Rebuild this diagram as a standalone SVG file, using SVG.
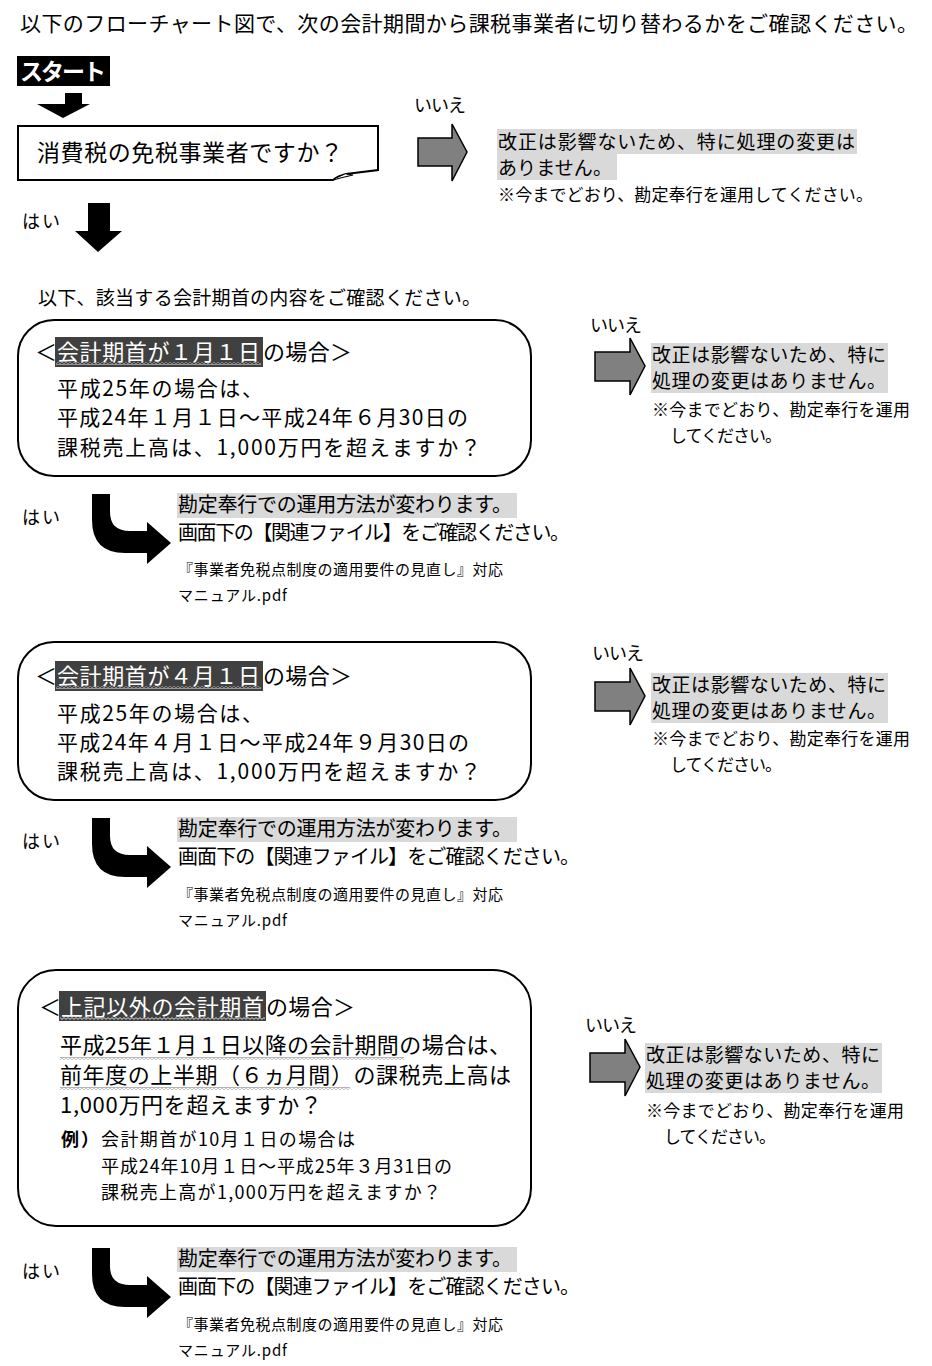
<svg xmlns="http://www.w3.org/2000/svg" width="932" height="1366" viewBox="0 0 932 1366">
<style>
.t{font-family:"Noto Sans CJK JP","Noto Sans",sans-serif;fill:#000}
.w{fill:#fff}
.box{fill:#fff;stroke:#000;stroke-width:2}
.hl{fill:#d9d9d9}
.dk{fill:#404040}
.garrow{fill:#808080;stroke:#000;stroke-width:1.5;stroke-linejoin:miter}
.barrow{fill:#000}
</style>
<defs>
<pattern id="waveW" width="4" height="3" patternUnits="userSpaceOnUse"><path d="M0,0.6 L2,2.4 L4,0.6" fill="none" stroke="#fff" stroke-width="0.8"/></pattern>
<pattern id="waveG" width="4" height="3" patternUnits="userSpaceOnUse"><path d="M0,0.6 L2,2.4 L4,0.6" fill="none" stroke="#555" stroke-width="0.8"/></pattern>
<path id="bend" d="M92,494 H110 V512 Q110,531 130,531 H147 V522 L171,543 L147,564 V553 H125 Q92,553 92,520 Z"/>
</defs>
<rect width="932" height="1366" fill="#fff"/>

<text class="t" x="20" y="31" font-size="21" textLength="898">以下のフローチャート図で、次の会計期間から課税事業者に切り替わるかをご確認ください。</text>

<g id="start">
<rect x="17" y="56" width="93" height="30" fill="#000"/>
<text class="t w" x="20" y="80" font-size="23" font-weight="bold" textLength="86">スタート</text>
</g>

<g id="q1">
<path class="box" d="M18,126 H378 V170 L346,174 Q338,176 333,180 H18 Z"/>
<path d="M333,180 Q344,177 353,175 L346,174" fill="#fff" stroke="#000" stroke-width="1.2"/>
<text class="t" x="37" y="161" font-size="23" textLength="306">消費税の免税事業者ですか？</text>
</g>

<g id="no1">
<rect class="hl" x="497" y="129" width="360" height="25"/>
<rect class="hl" x="497" y="154" width="120" height="26"/>
<text class="t" x="498" y="149" font-size="19" textLength="357">改正は影響ないため、特に処理の変更は</text>
<text class="t" x="498" y="175" font-size="19" textLength="114">ありません。</text>
<text class="t" x="498" y="201" font-size="17" textLength="375">※今までどおり、勘定奉行を運用してください。</text>
</g>

<text class="t" x="38" y="305" font-size="19" textLength="443">以下、該当する会計期首の内容をご確認ください。</text>

<!-- Section 1 -->
<g id="case1">
<rect class="box" x="18" y="320" width="513" height="156" rx="36"/>
<text class="t" x="35" y="360" font-size="22" textLength="20">＜</text>
<rect class="dk" x="55" y="337" width="208" height="30"/>
<text class="t w" x="57" y="360" font-size="22" textLength="203">会計期首が１月１日</text>
<rect x="56" y="362" width="205" height="3" fill="url(#waveW)"/>
<text class="t" x="263" y="360" font-size="22" textLength="89">の場合＞</text>
<text class="t" x="57" y="396" font-size="21" textLength="206">平成25年の場合は、</text>
<text class="t" x="57" y="425" font-size="21" textLength="411">平成24年１月１日～平成24年６月30日の</text>
<text class="t" x="57" y="455" font-size="21" textLength="424">課税売上高は、1,000万円を超えますか？</text>
</g>
<g id="no2">
<rect class="hl" x="651" y="343" width="237" height="25"/>
<rect class="hl" x="651" y="368" width="237" height="25"/>
<text class="t" x="652" y="362" font-size="19" textLength="234">改正は影響ないため、特に</text>
<text class="t" x="652" y="388" font-size="19" textLength="234">処理の変更はありません。</text>
<text class="t" x="652" y="416" font-size="17" textLength="258">※今までどおり、勘定奉行を運用</text>
<text class="t" x="670" y="442" font-size="17" textLength="112">してください。</text>
</g>
<g id="yes1">
<rect class="hl" x="177" y="493" width="340" height="25"/>
<text class="t" x="178" y="512" font-size="20" textLength="334">勘定奉行での運用方法が変わります。</text>
<text class="t" x="178" y="540" font-size="20" textLength="392">画面下の【関連ファイル】をご確認ください。</text>
<text class="t" x="178" y="575" font-size="15" textLength="325">『事業者免税点制度の適用要件の見直し』対応</text>
<text class="t" x="178" y="601" font-size="15" textLength="109">マニュアル.pdf</text>
</g>

<!-- Section 2 -->
<g id="case2">
<rect class="box" x="18" y="642" width="513" height="158" rx="36"/>
<text class="t" x="35" y="684" font-size="22" textLength="20">＜</text>
<rect class="dk" x="55" y="661" width="208" height="30"/>
<text class="t w" x="57" y="684" font-size="22" textLength="203">会計期首が４月１日</text>
<rect x="56" y="686" width="205" height="3" fill="url(#waveW)"/>
<text class="t" x="263" y="684" font-size="22" textLength="89">の場合＞</text>
<text class="t" x="57" y="721" font-size="21" textLength="206">平成25年の場合は、</text>
<text class="t" x="57" y="750" font-size="21" textLength="412">平成24年４月１日～平成24年９月30日の</text>
<text class="t" x="57" y="779" font-size="21" textLength="424">課税売上高は、1,000万円を超えますか？</text>
</g>
<g id="no3">
<rect class="hl" x="651" y="673" width="237" height="25"/>
<rect class="hl" x="651" y="698" width="237" height="25"/>
<text class="t" x="652" y="692" font-size="19" textLength="234">改正は影響ないため、特に</text>
<text class="t" x="652" y="718" font-size="19" textLength="234">処理の変更はありません。</text>
<text class="t" x="652" y="745" font-size="17" textLength="258">※今までどおり、勘定奉行を運用</text>
<text class="t" x="670" y="771" font-size="17" textLength="112">してください。</text>
</g>
<g id="yes2">
<rect class="hl" x="177" y="817" width="340" height="25"/>
<text class="t" x="178" y="836" font-size="20" textLength="334">勘定奉行での運用方法が変わります。</text>
<text class="t" x="178" y="864" font-size="20" textLength="402">画面下の【関連ファイル】をご確認ください。</text>
<text class="t" x="178" y="900" font-size="15" textLength="325">『事業者免税点制度の適用要件の見直し』対応</text>
<text class="t" x="178" y="926" font-size="15" textLength="109">マニュアル.pdf</text>
</g>

<!-- Section 3 -->
<g id="case3">
<rect class="box" x="18" y="970" width="513" height="256" rx="38"/>
<text class="t" x="39" y="1015" font-size="22" textLength="20">＜</text>
<rect class="dk" x="59" y="991" width="207" height="30"/>
<text class="t w" x="61" y="1015" font-size="22" textLength="203">上記以外の会計期首</text>
<rect x="60" y="1017" width="205" height="3" fill="url(#waveW)"/>
<text class="t" x="266" y="1015" font-size="22" textLength="89">の場合＞</text>
<text class="t" x="60" y="1053" font-size="22" textLength="451">平成25年１月１日以降の会計期間の場合は、</text>
<rect x="60" y="1057" width="344" height="3" fill="url(#waveG)"/>
<text class="t" x="60" y="1083" font-size="22" textLength="451">前年度の上半期（６ヵ月間）の課税売上高は</text>
<rect x="60" y="1087" width="290" height="3" fill="url(#waveG)"/>
<text class="t" x="60" y="1113" font-size="22" textLength="262">1,000万円を超えますか？</text>
<text class="t" x="61" y="1146" font-size="18" font-weight="bold" textLength="38">例）</text>
<text class="t" x="101" y="1146" font-size="18" textLength="254">会計期首が10月１日の場合は</text>
<text class="t" x="101" y="1173" font-size="18" textLength="351">平成24年10月１日～平成25年３月31日の</text>
<text class="t" x="101" y="1199" font-size="18" textLength="340">課税売上高が1,000万円を超えますか？</text>
</g>
<g id="no4">
<rect class="hl" x="645" y="1043" width="237" height="25"/>
<rect class="hl" x="645" y="1068" width="237" height="25"/>
<text class="t" x="646" y="1062" font-size="19" textLength="234">改正は影響ないため、特に</text>
<text class="t" x="646" y="1088" font-size="19" textLength="234">処理の変更はありません。</text>
<text class="t" x="646" y="1117" font-size="17" textLength="258">※今までどおり、勘定奉行を運用</text>
<text class="t" x="664" y="1143" font-size="17" textLength="112">してください。</text>
</g>
<g id="yes3">
<rect class="hl" x="177" y="1247" width="340" height="25"/>
<text class="t" x="178" y="1266" font-size="20" textLength="334">勘定奉行での運用方法が変わります。</text>
<text class="t" x="178" y="1294" font-size="20" textLength="402">画面下の【関連ファイル】をご確認ください。</text>
<text class="t" x="178" y="1330" font-size="15" textLength="325">『事業者免税点制度の適用要件の見直し』対応</text>
<text class="t" x="178" y="1356" font-size="15" textLength="109">マニュアル.pdf</text>
</g>

<g id="connectors">
<path class="barrow" d="M65,93 H82 V104 H90 L63,118 L37,104 H65 Z"/>
<path class="garrow" d="M418,138 H452 V124 L467,152 L452,181 V166 H418 Z"/>
<text class="t" x="414" y="112" font-size="18" textLength="52">いいえ</text>
<path class="barrow" d="M88,203 H110 V231 H122 L98,252 L75,231 H88 Z"/>
<text class="t" x="22" y="228" font-size="18" textLength="38">はい</text>

<path class="garrow" d="M595,352 H630 V338 L645,366 L630,395 V381 H595 Z"/>
<text class="t" x="590" y="332" font-size="18" textLength="52">いいえ</text>
<use href="#bend" class="barrow"/>
<text class="t" x="22" y="524" font-size="18" textLength="38">はい</text>

<path class="garrow" d="M595,682 H630 V668 L645,696 L630,725 V711 H595 Z"/>
<text class="t" x="592" y="660" font-size="18" textLength="52">いいえ</text>
<use href="#bend" class="barrow" transform="translate(0,324)"/>
<text class="t" x="22" y="848" font-size="18" textLength="38">はい</text>

<path class="garrow" d="M590,1053 H625 V1039 L640,1067 L625,1096 V1082 H590 Z"/>
<text class="t" x="585" y="1032" font-size="18" textLength="52">いいえ</text>
<use href="#bend" class="barrow" transform="translate(0,754)"/>
<text class="t" x="22" y="1278" font-size="18" textLength="38">はい</text>
</g>
</svg>
